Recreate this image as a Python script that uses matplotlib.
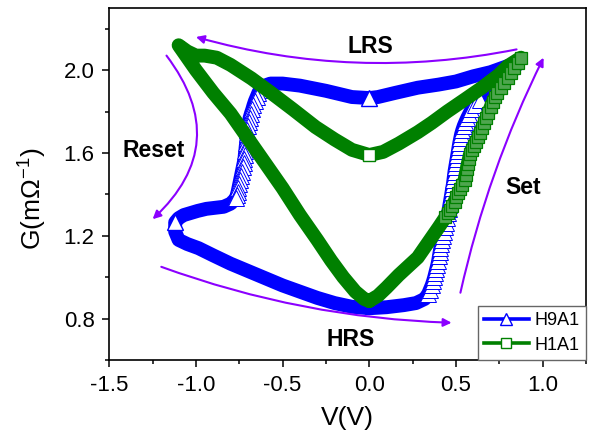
import matplotlib
matplotlib.use("Agg")
import matplotlib.pyplot as plt
from matplotlib.ticker import MultipleLocator
from matplotlib.lines import Line2D
import numpy as np

plt.rcParams['font.family'] = ['Liberation Sans', 'DejaVu Sans']
plt.rcParams['mathtext.fontset'] = 'custom'
plt.rcParams['mathtext.rm'] = 'Liberation Sans'
plt.rcParams['axes.unicode_minus'] = False

# ---- H9A1 (blue) ----
# HRS, 0 -> positive
v9_hrs_pos = [0.00, 0.10, 0.20, 0.27, 0.32]
g9_hrs_pos = [0.850, 0.855, 0.865, 0.875, 0.895]
# set jump (hollow triangles stack up here)
v9_set = [0.340, 0.350, 0.360, 0.368, 0.375, 0.381, 0.387, 0.393, 0.398, 0.402, 0.406, 0.410,
          0.414, 0.420, 0.426, 0.432, 0.438, 0.444, 0.450, 0.455, 0.459, 0.463, 0.467, 0.471,
          0.475, 0.479, 0.483, 0.486, 0.489, 0.492, 0.496, 0.500, 0.504, 0.508, 0.512, 0.516,
          0.520, 0.525, 0.530, 0.537, 0.545, 0.555, 0.566, 0.578, 0.590, 0.610, 0.640]
g9_set = [0.920, 0.940, 0.960, 0.980, 1.000, 1.020, 1.040, 1.060, 1.080, 1.100, 1.120, 1.140,
          1.160, 1.180, 1.200, 1.220, 1.240, 1.260, 1.285, 1.310, 1.330, 1.350, 1.370, 1.390,
          1.410, 1.430, 1.450, 1.470, 1.490, 1.510, 1.530, 1.550, 1.570, 1.590, 1.610, 1.630,
          1.650, 1.670, 1.690, 1.710, 1.730, 1.750, 1.770, 1.790, 1.810, 1.830, 1.855]
# LRS, top right -> back through 0 -> negative
v9_lrs = [0.70, 0.76, 0.82, 0.86, 0.80, 0.70, 0.60, 0.50, 0.40, 0.28, 0.15, 0.05, 0.00,
          -0.10, -0.25, -0.40, -0.50, -0.57]
g9_lrs = [1.90, 1.95, 2.00, 2.03, 2.02, 1.99, 1.97, 1.945, 1.93, 1.915, 1.89, 1.87, 1.865,
          1.87, 1.90, 1.925, 1.935, 1.935]
# reset drop
v9_reset = [-0.620, -0.630, -0.640, -0.650, -0.660, -0.668, -0.675, -0.683, -0.690, -0.695,
            -0.700, -0.703, -0.705, -0.708, -0.710, -0.713, -0.715, -0.718, -0.720, -0.725,
            -0.730, -0.735, -0.740, -0.745, -0.750, -0.755, -0.760, -0.765, -0.770]
g9_reset = [1.920, 1.905, 1.890, 1.870, 1.850, 1.830, 1.810, 1.790, 1.770, 1.750,
            1.730, 1.710, 1.690, 1.670, 1.650, 1.630, 1.610, 1.590, 1.570, 1.550,
            1.530, 1.510, 1.490, 1.470, 1.450, 1.430, 1.410, 1.395, 1.380]
# shoulder out to -1.12 and HRS back to 0
v9_hrs_neg = [-0.80, -0.84, -0.89, -0.94, -0.99, -1.03, -1.07, -1.10, -1.12, -1.12, -1.10, -1.05,
              -0.985, -0.90, -0.80, -0.70, -0.60, -0.50, -0.40, -0.30, -0.20, -0.10, 0.00]
g9_hrs_neg = [1.355, 1.34, 1.335, 1.33, 1.32, 1.31, 1.30, 1.285, 1.265, 1.22, 1.18, 1.16,
              1.14, 1.105, 1.065, 1.03, 0.995, 0.96, 0.93, 0.90, 0.875, 0.857, 0.850]

# ---- H1A1 (green) ----
v1_hrs_pos = [0.00, 0.05, 0.10, 0.17, 0.28, 0.40]
g1_hrs_pos = [0.885, 0.91, 0.95, 1.01, 1.095, 1.24]
v1_set = [0.440, 0.455, 0.468, 0.480, 0.492, 0.503, 0.514, 0.526, 0.538, 0.550, 0.556, 0.562,
          0.568, 0.575, 0.582, 0.592, 0.604, 0.616, 0.628, 0.640, 0.652, 0.664, 0.676, 0.688,
          0.700, 0.713, 0.726, 0.740, 0.760, 0.780, 0.800, 0.820, 0.838, 0.856, 0.875]
g1_set = [1.290, 1.310, 1.325, 1.345, 1.365, 1.385, 1.405, 1.425, 1.447, 1.470, 1.495, 1.520,
          1.545, 1.570, 1.595, 1.615, 1.635, 1.655, 1.675, 1.695, 1.720, 1.745, 1.770, 1.795,
          1.820, 1.845, 1.868, 1.890, 1.915, 1.940, 1.963, 1.985, 2.010, 2.035, 2.060]
v1_lrs = [0.80, 0.745, 0.65, 0.555, 0.45, 0.36, 0.28, 0.17, 0.08, 0.00, -0.10, -0.20, -0.31,
          -0.44, -0.566, -0.68, -0.80, -0.88, -0.95, -1.00, -1.05, -1.10]
g1_lrs = [2.02, 1.975, 1.915, 1.86, 1.80, 1.745, 1.70, 1.645, 1.605, 1.59, 1.615, 1.665, 1.725,
          1.81, 1.89, 1.96, 2.025, 2.06, 2.07, 2.07, 2.09, 2.12]
v1_hrs_neg = [-1.00, -0.90, -0.80, -0.70, -0.60, -0.50, -0.40, -0.30, -0.22, -0.15, -0.08,
              -0.03, 0.00]
g1_hrs_neg = [2.00, 1.89, 1.79, 1.67, 1.55, 1.43, 1.30, 1.18, 1.08, 1.00, 0.93, 0.895, 0.885]

x_ticks = [-1.5, -1.0, -0.5, 0.0, 0.5, 1.0]
y_ticks = [0.8, 1.2, 1.6, 2.0]

blue = '#0000FF'
green = '#008000'
purple = '#8B00FF'

v9 = v9_hrs_pos + v9_set + v9_lrs + v9_reset + v9_hrs_neg
g9 = g9_hrs_pos + g9_set + g9_lrs + g9_reset + g9_hrs_neg
v1 = v1_hrs_pos + v1_set + v1_lrs + v1_hrs_neg
g1 = g1_hrs_pos + g1_set + g1_lrs + g1_hrs_neg

fig = plt.figure(figsize=(5.96, 4.34), dpi=100)
ax = fig.add_axes([0.1834, 0.1705, 0.7996, 0.8111])

# blue loop
ax.plot(v9, g9, color=blue, lw=10, solid_joinstyle='round', solid_capstyle='round', zorder=2)
ax.plot(v9_set, g9_set, ls='none', marker='^', ms=11, mfc='white', mec=blue, mew=0.7, zorder=2)
ax.plot(v9_reset, g9_reset, ls='none', marker='^', ms=11, mfc='white', mec=blue, mew=0.7, zorder=2)
ax.plot(v9_lrs, g9_lrs, ls='none', marker='^', ms=11, mfc='white', mec=blue, mew=1,
        markevery=[v9_lrs.index(0.00)], zorder=3)
ax.plot(v9_hrs_neg, g9_hrs_neg, ls='none', marker='^', ms=11, mfc='white', mec=blue, mew=1,
        markevery=[8], zorder=3)

# green loop
ax.plot(v1, g1, color=green, lw=10, solid_joinstyle='round', solid_capstyle='round', zorder=4)
ax.plot(v1_set, g1_set, ls='none', marker='s', ms=8.5, mfc='#4ea64e', mec=green, mew=0.9, zorder=4)
ax.plot(v1_lrs, g1_lrs, ls='none', marker='s', ms=8.5, mfc='white', mec=green, mew=1,
        markevery=[v1_lrs.index(0.00)], zorder=5)

# arrows showing sweep direction
arrow_kw = dict(arrowstyle='-|>', color=purple, lw=1.5, mutation_scale=12, shrinkA=0, shrinkB=0)
ax.annotate('', xy=(-1.0, 2.16), xytext=(0.85, 2.10),
            arrowprops=dict(connectionstyle='arc3,rad=-0.12', **arrow_kw))
ax.annotate('', xy=(-1.25, 1.28), xytext=(-1.17, 2.07),
            arrowprops=dict(connectionstyle='arc3,rad=-0.45', **arrow_kw))
ax.annotate('', xy=(0.475, 0.78), xytext=(-1.20, 1.05),
            arrowprops=dict(connectionstyle='arc3,rad=0.08', **arrow_kw))
ax.annotate('', xy=(1.006, 2.06), xytext=(0.526, 0.925),
            arrowprops=dict(connectionstyle='arc3,rad=-0.06', **arrow_kw))

ax.text(0.006, 2.116, 'LRS', fontsize=16.5, fontweight='bold', ha='center', va='center')
ax.text(-1.245, 1.612, 'Reset', fontsize=16.5, fontweight='bold', ha='center', va='center')
ax.text(0.887, 1.433, 'Set', fontsize=16.5, fontweight='bold', ha='center', va='center')
ax.text(-0.11, 0.70, 'HRS', fontsize=16.5, fontweight='bold', ha='center', va='center')

ax.set_xlim(-1.5, 1.25)
ax.set_ylim(0.6, 2.3)
ax.set_xticks(x_ticks)
ax.set_yticks(y_ticks)
ax.xaxis.set_minor_locator(MultipleLocator(0.25))
ax.yaxis.set_minor_locator(MultipleLocator(0.2))
ax.tick_params(which='both', direction='out', width=1.1, labelsize=16, pad=5.5)
ax.tick_params(which='major', length=5)
ax.tick_params(which='minor', length=3)
for s in ax.spines.values():
    s.set_linewidth(1.2)

ax.set_xlabel('V(V)', fontsize=19, va='center')
ax.set_ylabel('G(m\u03a9$^{\\mathregular{-1}}$)', fontsize=19, va='center')
ax.xaxis.set_label_coords(0.5, -0.165)
ax.yaxis.set_label_coords(-0.164, 0.457)

handles = [
    Line2D([], [], color=blue, lw=2.6, marker='^', ms=9, mfc='white', mec=blue, mew=1),
    Line2D([], [], color=green, lw=2.6, marker='s', ms=7, mfc='white', mec=green, mew=1),
]
leg = ax.legend(handles, ['H9A1', 'H1A1'], loc='lower right', bbox_to_anchor=(1.0, 0.0),
                borderaxespad=0, fontsize=13, handlelength=2.5, handletextpad=0.3,
                borderpad=0.35, labelspacing=0.4, fancybox=False, framealpha=1)
leg.get_frame().set_edgecolor('#666666')
leg.get_frame().set_linewidth(1)

fig.savefig('out.png', dpi=100)
